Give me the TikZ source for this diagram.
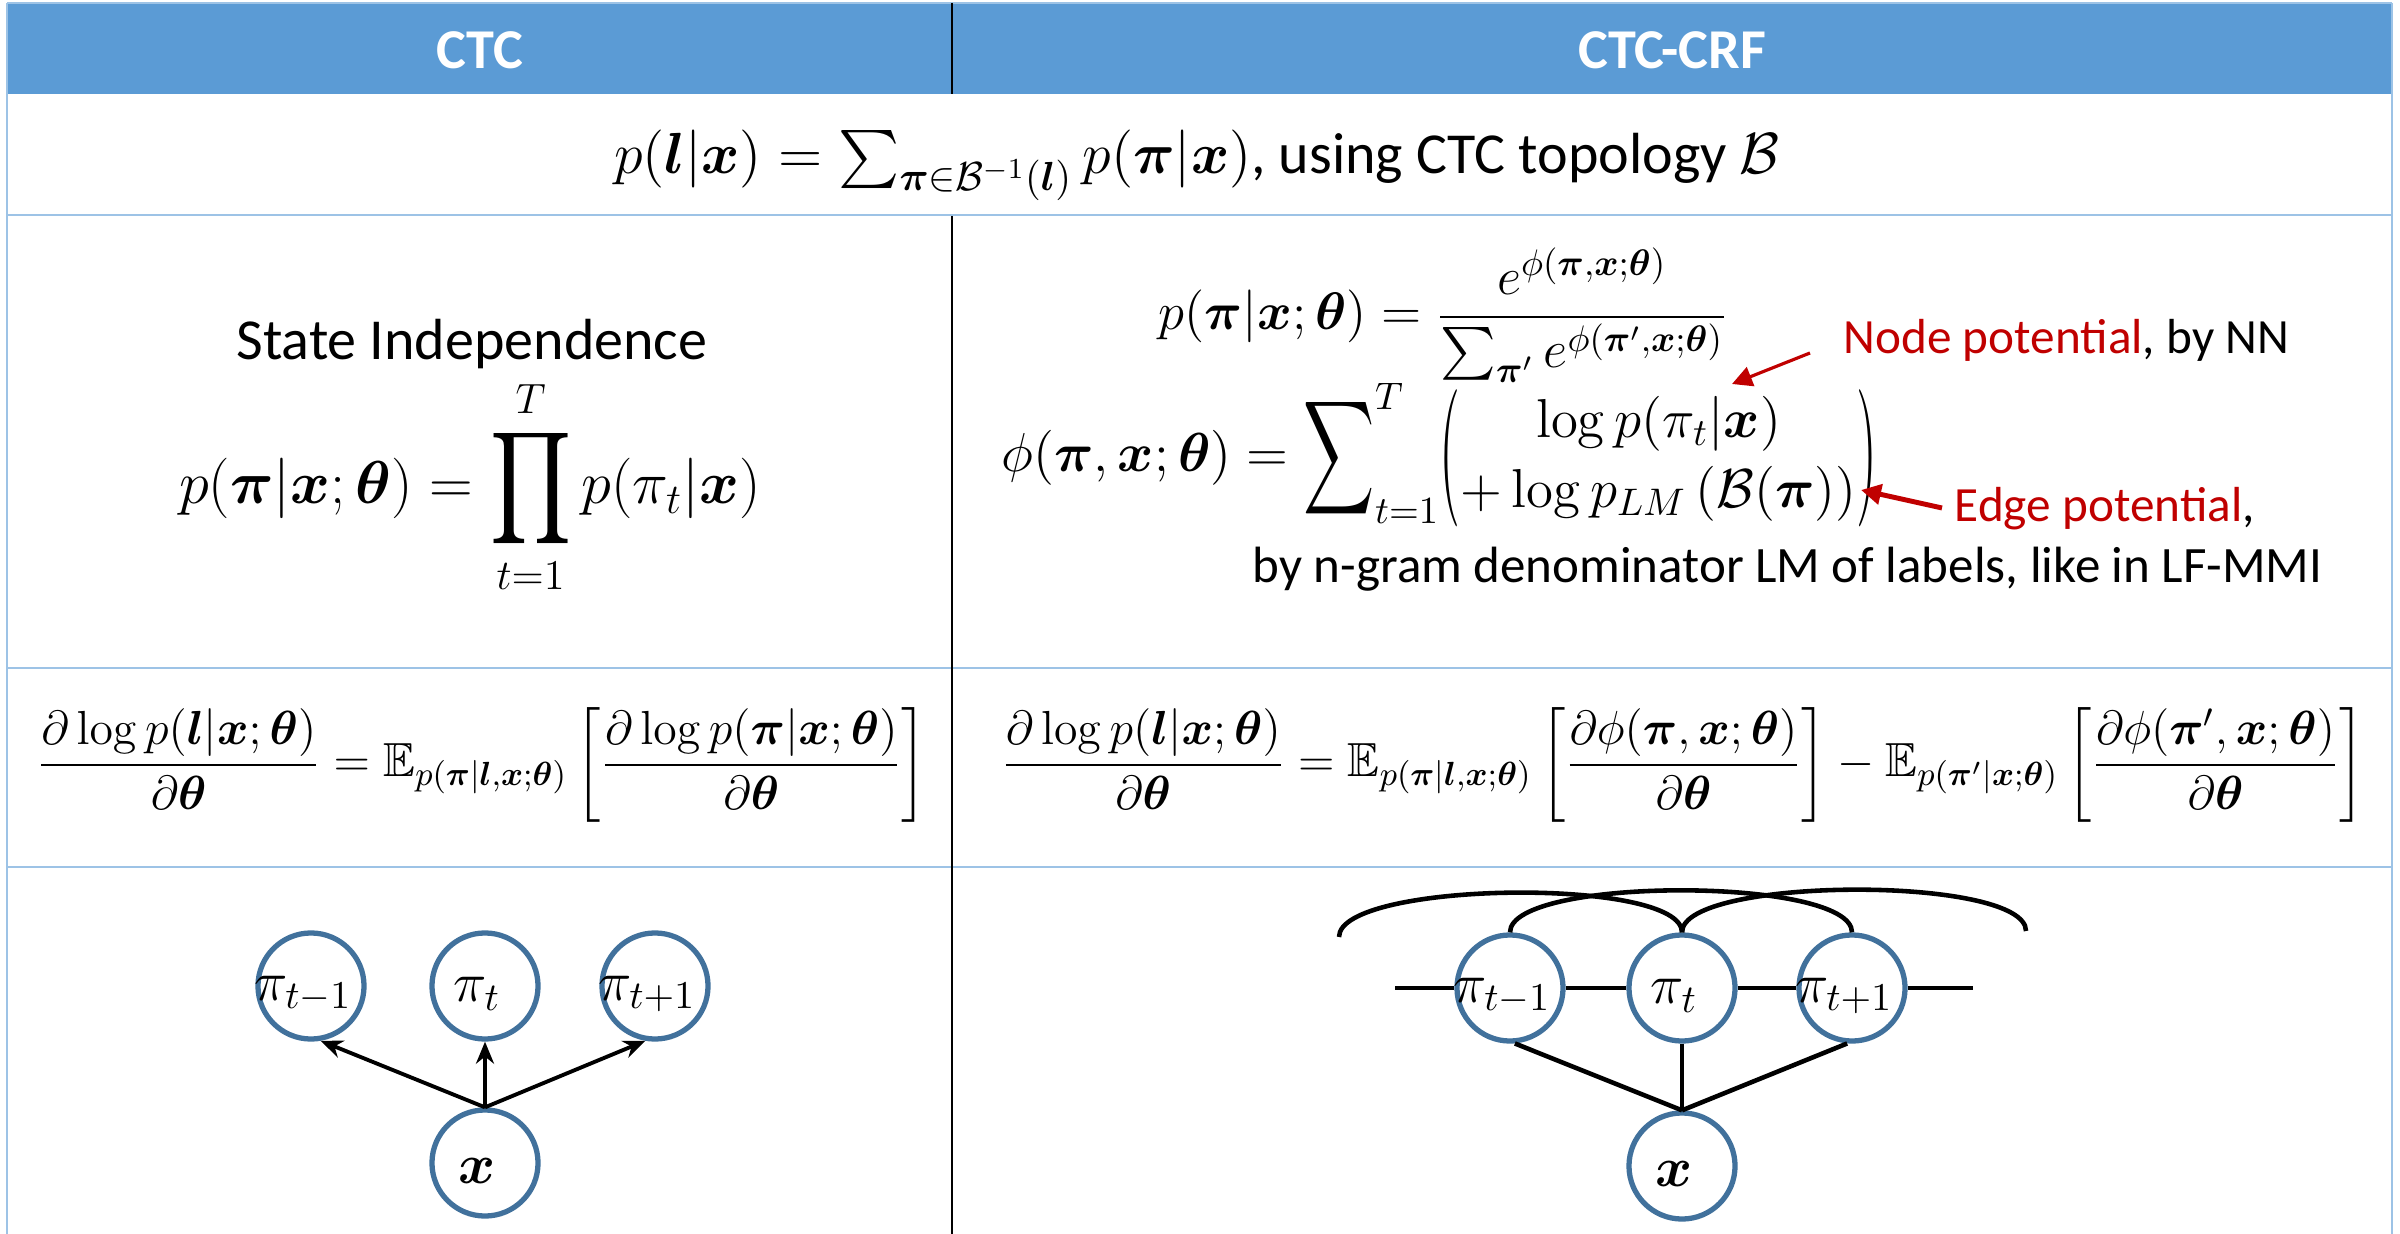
\documentclass[tikz,border=0pt]{standalone}
\usepackage{fix-cm}
\usepackage{amsmath,amssymb}
\usepackage{bm}
\usepackage{graphicx}
\usepackage[no-math]{fontspec}
\setmainfont{Carlito}
\usetikzlibrary{arrows.meta}
\definecolor{hdr}{HTML}{5B9BD5}
\definecolor{gridc}{HTML}{9DC3E6}
\definecolor{circc}{HTML}{41719C}
\definecolor{darkred}{HTML}{C00000}
\newcommand{\bigsum}{\mathop{\vcenter{\hbox{\scalebox{0.9}[1.45]{$\displaystyle\sum$}}}}}
\newcommand{\bigprod}{\mathop{\vcenter{\hbox{\scalebox{1.05}[1.3]{$\displaystyle\prod$}}}}}
\newcommand{\tallparL}{\mathopen{\vcenter{\hbox{\scalebox{1}[2.5]{$($}}}}}
\newcommand{\tallparR}{\mathclose{\vcenter{\hbox{\scalebox{1}[2.5]{$)$}}}}}
\begin{document}
\begin{tikzpicture}[x=0.01cm,y=-0.01cm,
  gridline/.style={draw=gridc,line width=0.8pt},
  divider/.style={draw=black,line width=0.6pt},
  hdrtext/.style={text=white,inner sep=0pt,font=\fontsize{16}{19}\selectfont\bfseries},
  body/.style={font=\fontsize{14}{17}\selectfont, inner sep=0pt},
  gnode/.style={circle,draw=circc,line width=1.5pt,minimum size=1.06cm,inner sep=0pt},
  lbl/.style={font=\fontsize{16}{19}\selectfont,inner sep=0pt,xshift=-0.08cm,yshift=-0.08cm},
  garrow/.style={-{Stealth[length=2.2mm,width=1.8mm]},line width=1.1pt},
  gedge/.style={line width=1.3pt},
  redarrow/.style={draw=darkred,-{Triangle[length=2mm,width=2mm]}}
]
\useasboundingbox (0,0) rectangle (2400,1234);
% table
\fill[hdr] (7,3) rectangle (2392,94);
\draw[gridline] (7,3) -- (2392,3);
\draw[gridline] (7,3) -- (7,1234);
\draw[gridline] (2392,3) -- (2392,1234);
\draw[gridline] (7,215) -- (2392,215);
\draw[gridline] (7,668) -- (2392,668);
\draw[gridline] (7,867) -- (2392,867);
\draw[divider] (952,3) -- (952,94);
\draw[divider] (952,216) -- (952,1234);
% header
\node[hdrtext] (h1) at (480,50) {CTC};
\node[hdrtext] (h2) at (1672,50) {CTC-CRF};
% row 1
\node[body,anchor=base,font=\fontsize{16.5}{20}\selectfont] (f1) at (1197,174) {$p(\bm l|\bm x)=\sum_{\bm\pi\in\mathcal B^{-1}(\bm l)}p(\bm\pi|\bm x)$, using CTC topology $\mathcal B$};
% row 2 left
\node[body,anchor=base,font=\fontsize{16.5}{20}\selectfont] (si) at (472,360) {State Independence};
\node[body,anchor=base,font=\fontsize{17.2}{20}\selectfont] (f2l) at (470,504) {$\displaystyle p(\bm\pi|\bm x;\bm\theta)=\bigprod_{t=1}^{T}p(\pi_t|\bm x)$};
% row 2 right
\node[body,anchor=base west,font=\fontsize{15}{18}\selectfont] (f2a) at (1158,330) {$\displaystyle p(\bm\pi|\bm x;\bm\theta)=\frac{e^{\phi(\bm\pi,\bm x;\bm\theta)}}{\sum_{\bm\pi'}e^{\phi(\bm\pi',\bm x;\bm\theta)}}$};
\node[body,anchor=base west,font=\fontsize{15.6}{18.5}\selectfont] (f2b) at (1001,472) {$\displaystyle \phi(\bm\pi,\bm x;\bm\theta)=\bigsum\nolimits_{t=1}^{T}\tallparL{\renewcommand{\arraystretch}{1.08}\begin{array}{@{}c@{}}\log p(\pi_t|\bm x)\\ +\log p_{LM}\,(\mathcal B(\bm\pi))\end{array}}\tallparR$};
\node[body,anchor=base west] (np) at (1843,354) {\textcolor{darkred}{Node potential}, by NN};
\node[body,anchor=base west] (ep) at (1954,522) {\textcolor{darkred}{Edge potential},};
\node[body,anchor=base west,font=\fontsize{14.5}{17}\selectfont] (ng) at (1252,583) {by n-gram denominator LM of labels, like in LF-MMI};
\coordinate (n1) at (1810,353); \coordinate (n2) at (1732,384);
\draw[redarrow,line width=0.9pt] (n1) -- (n2);
\coordinate (e1) at (1942,508); \coordinate (e2) at (1861,490);
\draw[redarrow,line width=1.4pt] (e1) -- (e2);
% row 3
\node[body,font=\fontsize{13.6}{16}\selectfont] (f3l) at (482,765) {$\displaystyle \frac{\partial\log p(\bm l|\bm x;\bm\theta)}{\partial\bm\theta}=\mathbb E_{p(\bm\pi|\bm l,\bm x;\bm\theta)}\left[\frac{\partial\log p(\bm\pi|\bm x;\bm\theta)}{\partial\bm\theta}\right]$};
\node[body,font=\fontsize{13.6}{16}\selectfont] (f3r) at (1683,765) {$\displaystyle \frac{\partial\log p(\bm l|\bm x;\bm\theta)}{\partial\bm\theta}=\mathbb E_{p(\bm\pi|\bm l,\bm x;\bm\theta)}\left[\frac{\partial\phi(\bm\pi,\bm x;\bm\theta)}{\partial\bm\theta}\right]-\mathbb E_{p(\bm\pi'|\bm x;\bm\theta)}\left[\frac{\partial\phi(\bm\pi',\bm x;\bm\theta)}{\partial\bm\theta}\right]$};
% row 4 left graph
\node[gnode,label={[lbl]center:$\pi_{t-1}$}] (am) at (311,986) {};
\node[gnode,label={[lbl]center:$\pi_t$}] (at) at (485,986) {};
\node[gnode,label={[lbl]center:$\pi_{t+1}$}] (ap) at (655,986) {};
\node[gnode,label={[lbl]center:$\bm x$}] (ax) at (485,1163) {};
\draw[garrow] (ax.north) -- (am.-80);
\draw[garrow] (ax.north) -- (at.south);
\draw[garrow] (ax.north) -- (ap.-100);
% row 4 right graph
\node[gnode,label={[lbl]center:$\pi_{t-1}$}] (bm) at (1510,988) {};
\node[gnode,label={[lbl]center:$\pi_t$}] (bt) at (1682,988) {};
\node[gnode,label={[lbl]center:$\pi_{t+1}$}] (bp) at (1852,988) {};
\node[gnode,label={[lbl]center:$\bm x$}] (bx) at (1682,1166) {};
\coordinate (hl) at (1395,988);
\coordinate (hr) at (1973,988);
\draw[gedge] (hl) -- (bm.west);
\draw[gedge] (bm) -- (bt);
\draw[gedge] (bt) -- (bp);
\draw[gedge] (bp.east) -- (hr);
\draw[gedge] (bm.-85) -- (bx.north);
\draw[gedge] (bt.south) -- (bx.north);
\draw[gedge] (bp.-95) -- (bx.north);
\coordinate (al) at (1339,937);
\coordinate (ar) at (2026,931);
\draw[gedge] (al) .. controls +(0,-56) and +(0,-56) .. (bt.north);
\draw[gedge] (bm.north) .. controls +(0,-56) and +(0,-56) .. (bp.north);
\draw[gedge] (bt.north) .. controls +(0,-56) and +(0,-56) .. (ar);
\end{tikzpicture}
\end{document}
